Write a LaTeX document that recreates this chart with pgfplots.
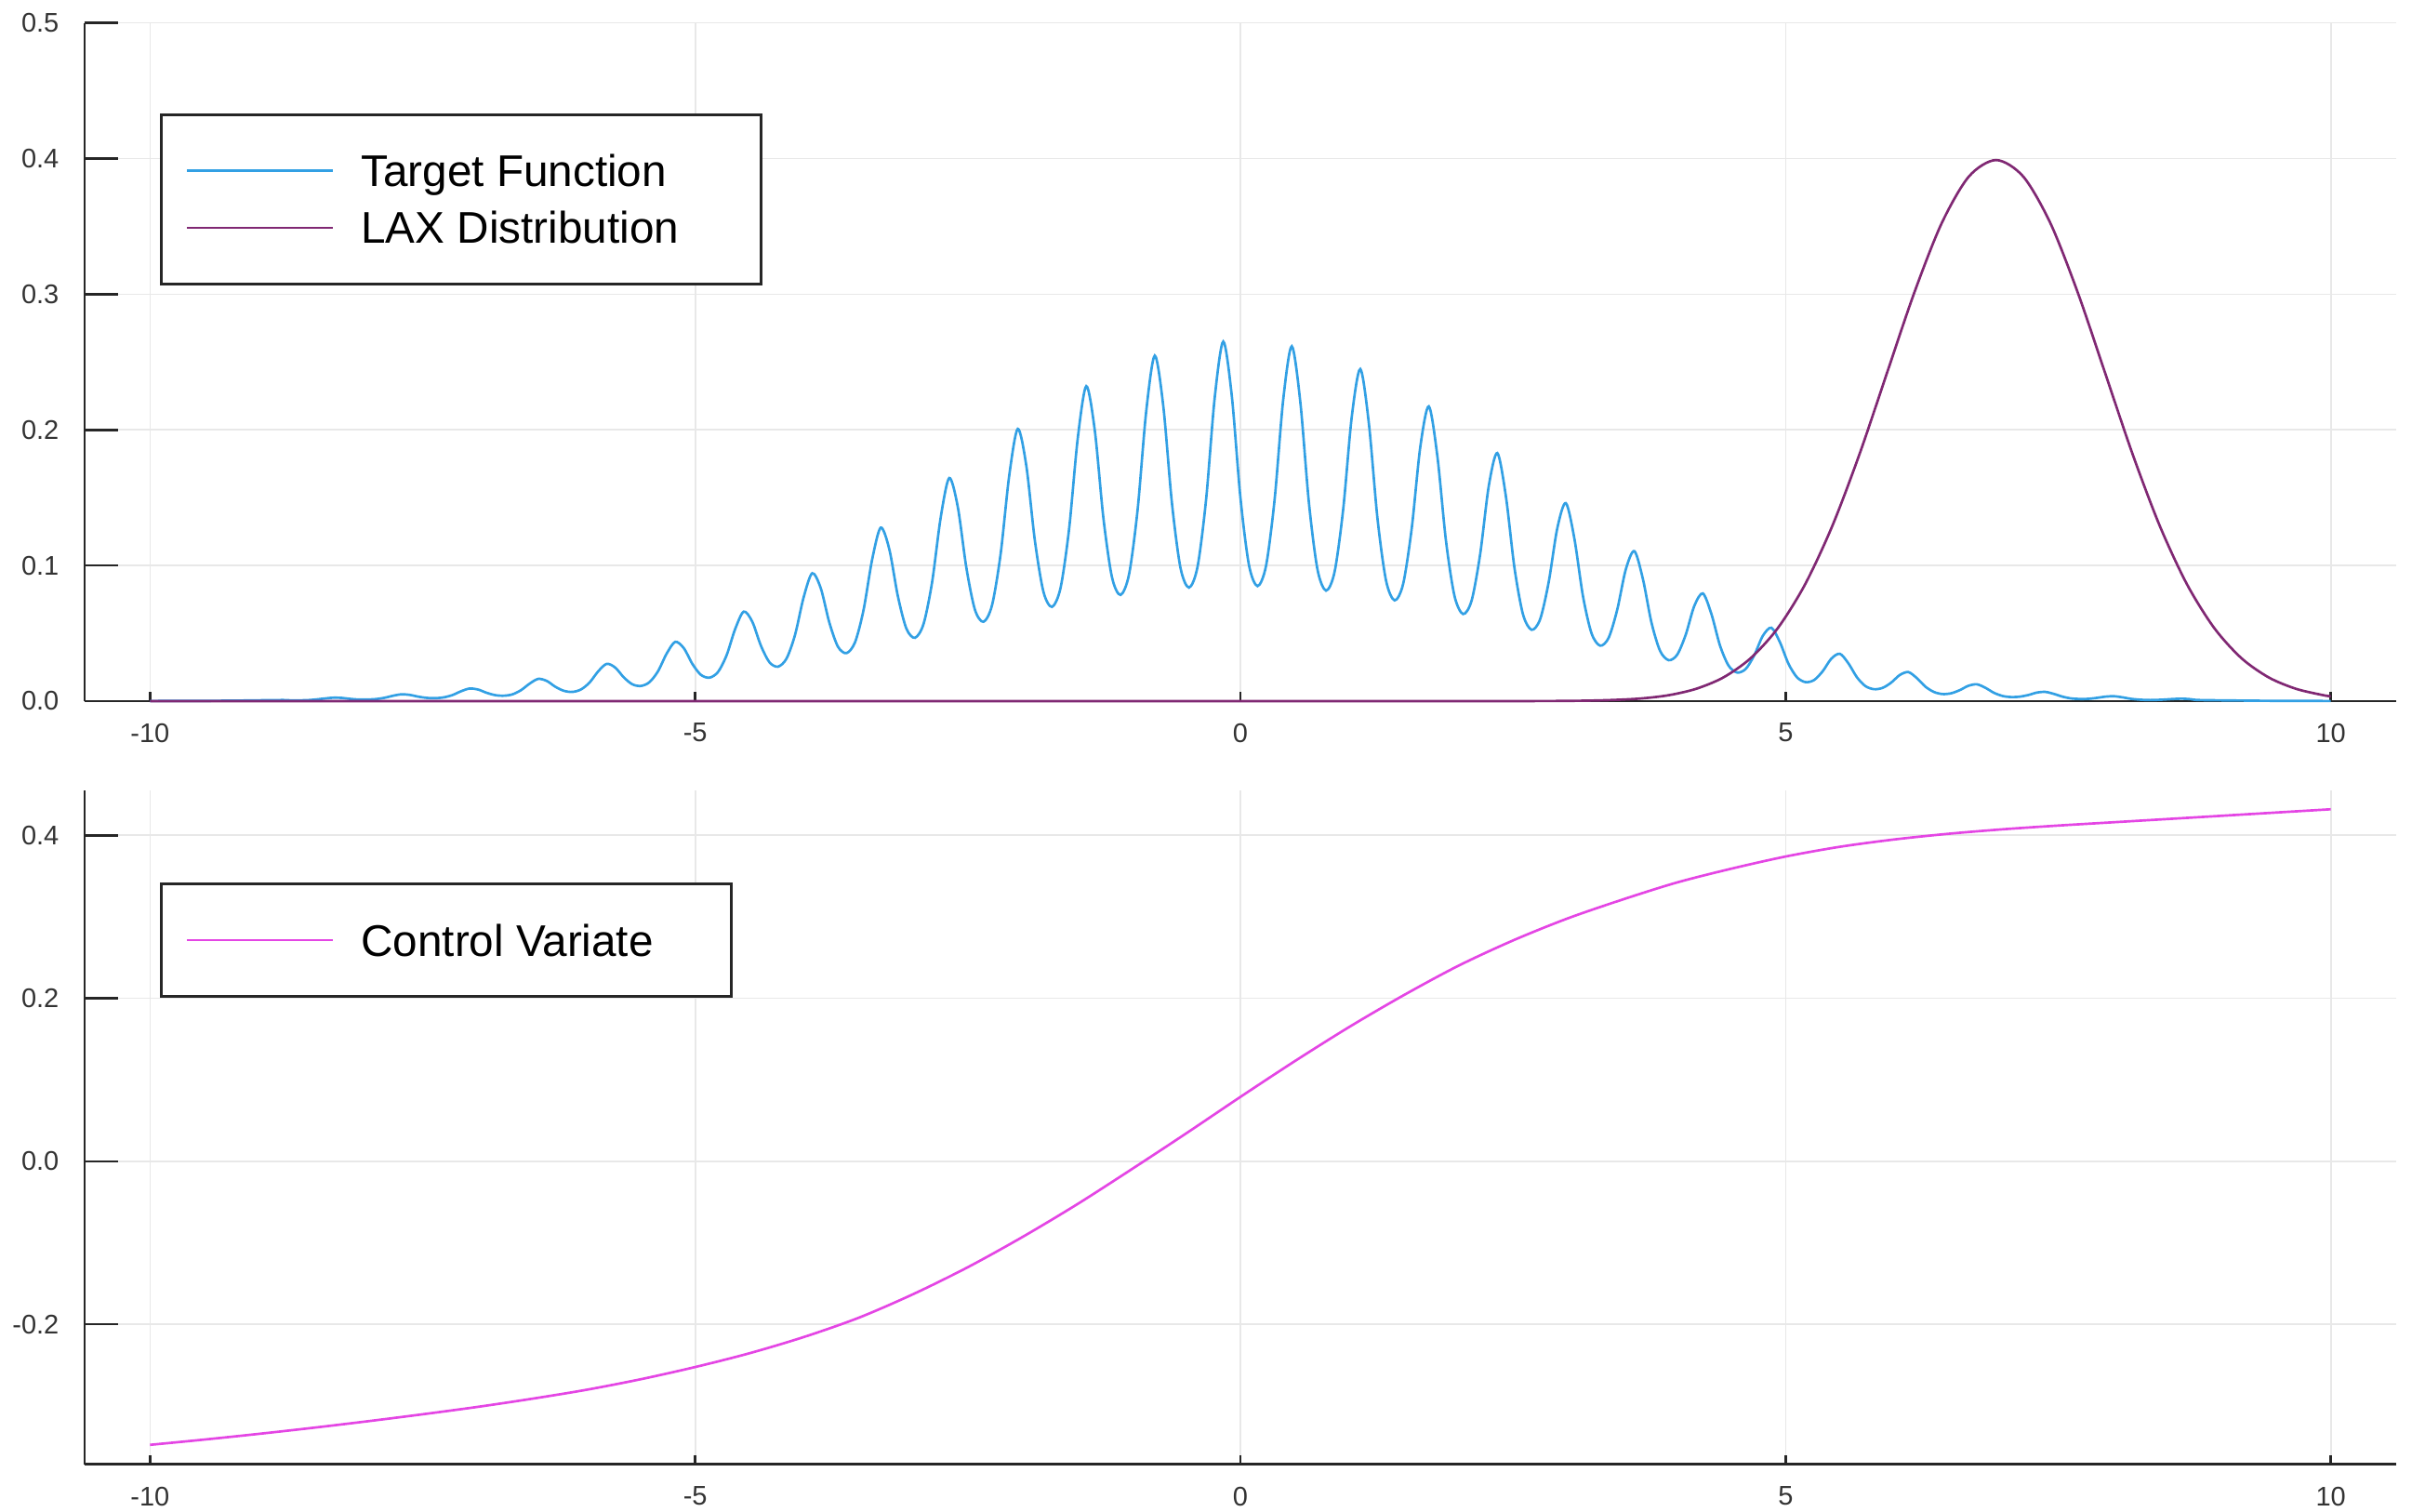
\documentclass[border=0pt]{standalone}
\usepackage{fontspec}
\setmainfont{Liberation Sans}
\usepackage{pgfplots}
\pgfplotsset{compat=1.18}
\definecolor{tgt}{RGB}{50,160,228}
\definecolor{lax}{RGB}{128,40,115}
\definecolor{cv}{RGB}{228,70,228}
\definecolor{gridc}{RGB}{232,232,232}
\pgfplotsset{
 mystyle/.style={
  scale only axis, width=745.8pt,
  xmin=-10.6, xmax=10.6,
  axis x line=bottom, axis y line=left,
  axis line style={-, line width=0.8pt, black!85},
  xtick={-10,-5,0,5,10}, xticklabels={-10,-5,0,5,10},
  grid=major, major grid style={line width=0.5pt, gridc},
  tick align=inside,
  major tick length=10.8pt,
  xtick style={/pgfplots/major tick length=3pt, line width=0.8pt, black!85},
  ytick style={line width=0.8pt, black!85},
  tick label style={font=\fontsize{8.7}{10}\selectfont, black!80},
  xticklabel style={inner sep=0pt, anchor=north, yshift=-7pt},
  yticklabel style={inner sep=0pt, anchor=east, xshift=-8.1pt},
  legend cell align=left,
  legend image code/.code={\draw[##1] (0pt,0pt) -- (47pt,0pt);},
  clip=false,
 },
 mylegend/.style={legend style={at={(0.0326,#1)}, anchor=north west, draw=black!85, line width=0.8pt,
   inner xsep=8pt, inner ysep=13pt, font=\fontsize{14.3}{17}\selectfont,
   row sep=8.2pt, column sep=8.7pt,
   nodes={inner sep=0pt, text height=10.2pt, text depth=0pt}}},
}
\begin{document}
\begin{tikzpicture}
\path[use as bounding box] (0,0) rectangle (778.2pt,487.5pt);
\begin{axis}[mystyle, at={(27.3pt,261.3pt)}, anchor=south west, height=218.8pt,
  ymin=0, ymax=0.5, ytick={0,0.1,0.2,0.3,0.4,0.5},
  yticklabels={0.0,0.1,0.2,0.3,0.4,0.5}, mylegend=0.8667]
\addplot[tgt, line width=0.8pt, smooth] coordinates {
(-10,0.0001) (-9.5,0.0002) (-9.2,0.0004)
(-8.7965,0.0008) (-8.7179,0.0006) (-8.6394,0.0006) (-8.5608,0.0007) (-8.4823,0.0012) (-8.4038,0.0019) (-8.3252,0.0025) (-8.2467,0.0024)
(-8.1681,0.0017) (-8.0896,0.0012) (-8.0111,0.0012) (-7.9325,0.0015) (-7.8540,0.0024) (-7.7754,0.0039) (-7.6969,0.0050) (-7.6184,0.0046)
(-7.5398,0.0033) (-7.4613,0.0024) (-7.3827,0.0022) (-7.3042,0.0028) (-7.2257,0.0045) (-7.1471,0.0073) (-7.0686,0.0093) (-6.9900,0.0085)
(-6.9115,0.0061) (-6.8330,0.0044) (-6.7544,0.0040) (-6.6759,0.0050) (-6.5973,0.0081) (-6.5188,0.0129) (-6.4403,0.0164) (-6.3617,0.0149)
(-6.2832,0.0106) (-6.2046,0.0076) (-6.1261,0.0068) (-6.0476,0.0086) (-5.9690,0.0137) (-5.8905,0.0219) (-5.8119,0.0275) (-5.7334,0.0247)
(-5.6549,0.0175) (-5.5763,0.0124) (-5.4978,0.0112) (-5.4192,0.0140) (-5.3407,0.0221) (-5.2622,0.0350) (-5.1836,0.0437) (-5.1051,0.0391)
(-5.0265,0.0275) (-4.9480,0.0194) (-4.8695,0.0173) (-4.7909,0.0215) (-4.7124,0.0338) (-4.6339,0.0531) (-4.5553,0.0660) (-4.4768,0.0586)
(-4.3982,0.0410) (-4.3197,0.0287) (-4.2412,0.0254) (-4.1626,0.0314) (-4.0841,0.0490) (-4.0055,0.0766) (-3.9270,0.0943) (-3.8485,0.0832)
(-3.7699,0.0579) (-3.6914,0.0402) (-3.6128,0.0354) (-3.5343,0.0434) (-3.4558,0.0674) (-3.3772,0.1045) (-3.2987,0.1279) (-3.2201,0.1120)
(-3.1416,0.0774) (-3.0631,0.0534) (-2.9845,0.0467) (-2.9060,0.0569) (-2.8274,0.0878) (-2.7489,0.1353) (-2.6704,0.1645) (-2.5918,0.1431)
(-2.5133,0.0983) (-2.4347,0.0674) (-2.3562,0.0585) (-2.2777,0.0708) (-2.1991,0.1085) (-2.1206,0.1661) (-2.0420,0.2007) (-1.9635,0.1735)
(-1.8850,0.1183) (-1.8064,0.0806) (-1.7279,0.0695) (-1.6493,0.0836) (-1.5708,0.1272) (-1.4923,0.1934) (-1.4137,0.2322) (-1.3352,0.1994)
(-1.2566,0.1350) (-1.1781,0.0914) (-1.0996,0.0783) (-1.0210,0.0936) (-0.9425,0.1414) (-0.8639,0.2137) (-0.7854,0.2547) (-0.7069,0.2172)
(-0.6283,0.1462) (-0.5498,0.0983) (-0.4712,0.0837) (-0.3927,0.0993) (-0.3142,0.1491) (-0.2356,0.2238) (-0.1571,0.2651) (-0.0785,0.2246)
(0,0.1501)
(0.0785,0.1003) (0.1571,0.0848) (0.2356,0.1000) (0.3142,0.1491) (0.3927,0.2224) (0.4712,0.2616) (0.5498,0.2202) (0.6283,0.1462)
(0.7069,0.0970) (0.7854,0.0815) (0.8639,0.0954) (0.9425,0.1414) (1.0210,0.2095) (1.0996,0.2448) (1.1781,0.2047) (1.2566,0.1350)
(1.3352,0.0890) (1.4137,0.0743) (1.4923,0.0864) (1.5708,0.1272) (1.6493,0.1872) (1.7279,0.2173) (1.8064,0.1805) (1.8850,0.1183)
(1.9635,0.0775) (2.0420,0.0642) (2.1206,0.0742) (2.1991,0.1085) (2.2777,0.1586) (2.3562,0.1829) (2.4347,0.1510) (2.5133,0.0983)
(2.5918,0.0639) (2.6704,0.0526) (2.7489,0.0604) (2.8274,0.0878) (2.9060,0.1274) (2.9845,0.1460) (3.0631,0.1197) (3.1416,0.0774)
(3.2201,0.0500) (3.2987,0.0409) (3.3772,0.0467) (3.4558,0.0674) (3.5343,0.0971) (3.6128,0.1106) (3.6914,0.0900) (3.7699,0.0579)
(3.8485,0.0371) (3.9270,0.0302) (4.0055,0.0342) (4.0841,0.0490) (4.1626,0.0702) (4.2412,0.0794) (4.3197,0.0642) (4.3982,0.0410)
(4.4768,0.0262) (4.5553,0.0211) (4.6339,0.0237) (4.7124,0.0338) (4.7909,0.0481) (4.8695,0.0541) (4.9480,0.0434) (5.0265,0.0275)
(5.1051,0.0175) (5.1836,0.0140) (5.2622,0.0156) (5.3407,0.0221) (5.4192,0.0313) (5.4978,0.0349) (5.5763,0.0278) (5.6549,0.0175)
(5.7334,0.0110) (5.8119,0.0088) (5.8905,0.0098) (5.9690,0.0137) (6.0476,0.0193) (6.1261,0.0214) (6.2046,0.0169) (6.2832,0.0106)
(6.3617,0.0067) (6.4403,0.0052) (6.5188,0.0058) (6.5973,0.0081) (6.6759,0.0113) (6.7544,0.0124) (6.8330,0.0098) (6.9115,0.0061)
(6.9900,0.0038) (7.0686,0.0030) (7.1471,0.0033) (7.2257,0.0045) (7.3042,0.0063) (7.3827,0.0068) (7.4613,0.0053) (7.5398,0.0033)
(7.6184,0.0020) (7.6969,0.0016) (7.7754,0.0017) (7.8540,0.0024) (7.9325,0.0033) (8.0111,0.0036) (8.0896,0.0028) (8.1681,0.0017)
(8.2467,0.0011) (8.3252,0.0008) (8.4038,0.0009) (8.4823,0.0012) (8.5608,0.0016) (8.6394,0.0018) (8.7179,0.0014) (8.7965,0.0008)
(9.2,0.0004) (9.5,0.0002) (10,0.0001)
};
\addlegendentry{Target Function}
\addplot[lax, line width=0.8pt, smooth] coordinates {
(-10,0) (-6,0) (-2,0) (1,0) (2,0) (2.43,0.00001) (2.68,0.00005) (2.93,0.00013) (3.18,0.00035) (3.43,0.0009)
(3.68,0.0020) (3.93,0.0044) (4.18,0.0091) (4.43,0.0175) (4.68,0.0317) (4.93,0.0540) (5.18,0.0863) (5.43,0.1295)
(5.68,0.1826) (5.93,0.2420) (6.18,0.3011) (6.43,0.3521) (6.68,0.3867) (6.93,0.3989) (7.18,0.3867) (7.43,0.3521)
(7.68,0.3011) (7.93,0.2420) (8.18,0.1826) (8.43,0.1295) (8.68,0.0863) (8.93,0.0540) (9.18,0.0317) (9.43,0.0175)
(9.68,0.0091) (9.93,0.0044) (10,0.0036)
};
\addlegendentry{LAX Distribution\hspace*{18.5pt}}
\end{axis}
\begin{axis}[mystyle, at={(27.3pt,15.06pt)}, anchor=south west, height=217.4pt,
  ymin=-0.372, ymax=0.455, ytick={-0.2,0,0.2,0.4},
  yticklabels={-0.2,0.0,0.2,0.4}, mylegend=0.8631]
\addplot[cv, line width=0.8pt, smooth] coordinates {
(-10,-0.348) (-9.5,-0.3415) (-9,-0.3345) (-8.5,-0.327) (-8,-0.319) (-7.5,-0.3105) (-7,-0.3015) (-6.5,-0.2915)
(-6,-0.2805) (-5.5,-0.2675) (-5,-0.2525) (-4.5,-0.2355) (-4,-0.2155) (-3.5,-0.1920) (-3,-0.163) (-2.5,-0.130)
(-2,-0.093) (-1.5,-0.053) (-1,-0.010) (-0.5,0.034) (0,0.079) (0.5,0.123) (1,0.165) (1.5,0.204)
(2,0.240) (2.5,0.271) (3,0.298) (3.5,0.321) (4,0.342) (4.5,0.359) (5,0.3740) (5.5,0.3860)
(6,0.3950) (6.5,0.4020) (7,0.4075) (7.5,0.4120) (8,0.4160) (8.5,0.4200) (9,0.4240) (9.5,0.4280) (10,0.4320)
};
\addlegendentry{Control Variate\hspace*{17.2pt}}
\end{axis}
\end{tikzpicture}
\end{document}
